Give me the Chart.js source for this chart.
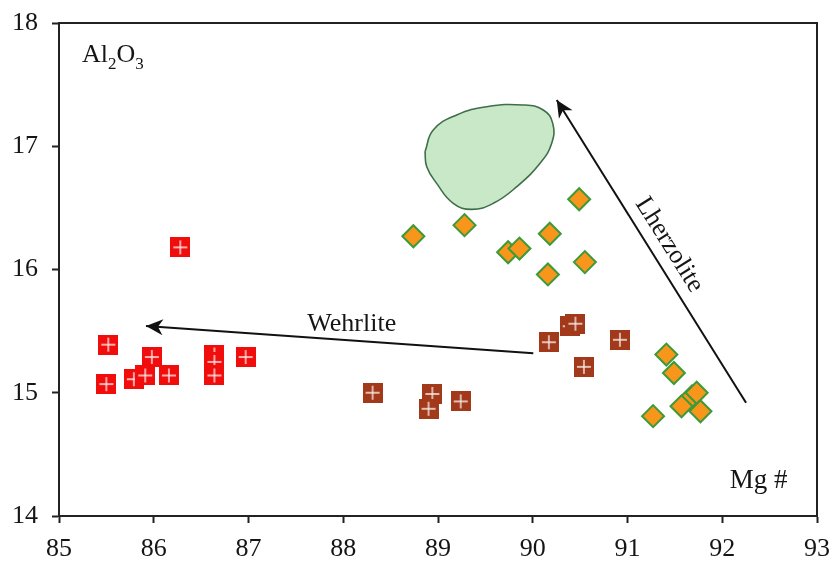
<!DOCTYPE html>
<html>
<head>
<meta charset="utf-8">
<script src="https://cdn.jsdelivr.net/npm/chart.js@4/dist/chart.umd.min.js"></script>
<style>
html,body{margin:0;padding:0;background:#fff;}
#wrap{width:834px;height:562px;position:relative;}
</style>
</head>
<body>
<div id="wrap"><canvas id="c" width="834" height="562"></canvas></div>
<script>
// ---- data ----
const xTicks = [85, 86, 87, 88, 89, 90, 91, 92, 93];
const yTicks = [14, 15, 16, 17, 18];

// Wehrlite (red squares)
const wehrX = [86.28, 85.52, 85.50, 85.98, 85.79, 85.91, 86.16, 86.64, 86.64, 86.64, 86.97];
const wehrY = [16.18, 15.39, 15.07, 15.29, 15.11, 15.14, 15.14, 15.31, 15.25, 15.14, 15.29];

// Transitional (brown squares)
const brownX = [88.31, 88.94, 88.90, 89.24, 90.17, 90.39, 90.45, 90.54, 90.92];
const brownY = [15.00, 14.99, 14.87, 14.93, 15.41, 15.54, 15.56, 15.21, 15.43];

// Lherzolite (orange diamonds)
const lherX = [88.74, 89.28, 89.74, 89.86, 90.18, 90.49, 90.16, 90.55, 91.41, 91.49, 91.68, 91.73, 91.57, 91.77, 91.27];
const lherY = [16.27, 16.36, 16.14, 16.17, 16.29, 16.57, 15.96, 16.06, 15.31, 15.16, 14.97, 15.00, 14.89, 14.85, 14.81];

// Green field outline
const fieldX = [88.863, 88.950, 89.197, 89.514, 89.900, 90.111, 90.211, 90.200, 90.077, 89.831, 89.584, 89.356, 89.161, 88.986, 88.881, 88.863];
const fieldY = [16.956, 17.132, 17.254, 17.321, 17.335, 17.294, 17.186, 17.024, 16.862, 16.672, 16.537, 16.488, 16.537, 16.699, 16.834, 16.956];

// Trend arrows (tail -> head)
const wehrArrowX = [90.006, 85.918];
const wehrArrowY = [15.32, 15.542];
const lherArrowX = [92.251, 90.253];
const lherArrowY = [14.919, 17.375];

// ---- helpers ----
const pts = (xs, ys) => xs.map((x, i) => ({x: x, y: ys[i]}));

function squareIcon(color) {
  const c = document.createElement('canvas');
  c.width = 20; c.height = 20;
  const g = c.getContext('2d');
  g.fillStyle = color;
  g.fillRect(0, 0, 20, 20);
  g.strokeStyle = 'rgba(255,255,255,0.9)';
  g.lineWidth = 1.4;
  g.beginPath();
  g.moveTo(10, 3); g.lineTo(10, 17);
  g.moveTo(3, 10); g.lineTo(17, 10);
  g.stroke();
  return c;
}

const FONT = "'Liberation Serif', 'Times New Roman', serif";
const TXT = '#151515';

const labelPlugin = {
  id: 'labels',
  afterDatasetsDraw(chart) {
    const ctx = chart.ctx;
    const xs = chart.scales.x, ys = chart.scales.y;
    const a = chart.chartArea;
    ctx.save();
    // frame
    ctx.strokeStyle = '#222';
    ctx.lineWidth = 2;
    ctx.strokeRect(a.left, a.top, a.right - a.left, a.bottom - a.top);

    // arrow heads
    function head(xArr, yArr) {
      const x0 = xs.getPixelForValue(xArr[0]), y0 = ys.getPixelForValue(yArr[0]);
      const x1 = xs.getPixelForValue(xArr[1]), y1 = ys.getPixelForValue(yArr[1]);
      const ang = Math.atan2(y1 - y0, x1 - x0);
      ctx.save();
      ctx.translate(x1, y1);
      ctx.rotate(ang);
      ctx.fillStyle = '#111';
      ctx.beginPath();
      ctx.moveTo(0, 0);
      ctx.lineTo(-17, -8);
      ctx.lineTo(-12, 0);
      ctx.lineTo(-17, 8);
      ctx.closePath();
      ctx.fill();
      ctx.restore();
      return ang;
    }
    head(wehrArrowX, wehrArrowY);
    const lAng = head(lherArrowX, lherArrowY);

    ctx.fillStyle = TXT;
    // Wehrlite
    ctx.font = '26px ' + FONT;
    ctx.textAlign = 'center';
    ctx.textBaseline = 'alphabetic';
    ctx.fillText('Wehrlite', xs.getPixelForValue(88.09), ys.getPixelForValue(15.50));

    // Lherzolite (rotated along arrow)
    ctx.save();
    ctx.translate(xs.getPixelForValue(91.44), ys.getPixelForValue(16.20));
    ctx.rotate(lAng + Math.PI);
    ctx.textBaseline = 'middle';
    ctx.fillText('Lherzolite', 0, 0);
    ctx.restore();

    // Al2O3
    ctx.textAlign = 'left';
    ctx.textBaseline = 'alphabetic';
    let px = xs.getPixelForValue(85.243), py = ys.getPixelForValue(17.684);
    ctx.font = '26px ' + FONT;
    ctx.fillText('Al', px, py); px += ctx.measureText('Al').width;
    ctx.font = '17px ' + FONT;
    ctx.fillText('2', px, py + 7); px += ctx.measureText('2').width;
    ctx.font = '26px ' + FONT;
    ctx.fillText('O', px, py); px += ctx.measureText('O').width;
    ctx.font = '17px ' + FONT;
    ctx.fillText('3', px, py + 7);

    // Mg #
    ctx.font = '27px ' + FONT;
    ctx.fillText('Mg #', xs.getPixelForValue(92.08), ys.getPixelForValue(14.227));
    ctx.restore();
  }
};

new Chart(document.getElementById('c'), {
  type: 'scatter',
  data: {
    datasets: [
      {
        label: 'Field',
        data: pts(fieldX, fieldY),
        showLine: true,
        tension: 0.45,
        fill: 'shape',
        backgroundColor: 'rgba(200,232,200,1)',
        borderColor: '#3f6e4a',
        borderWidth: 1.6,
        pointRadius: 0,
        order: 10
      },
      {
        label: 'Wehrlite trend',
        data: pts(wehrArrowX, wehrArrowY),
        showLine: true,
        borderColor: '#111',
        borderWidth: 2,
        pointRadius: 0,
        order: 9
      },
      {
        label: 'Lherzolite trend',
        data: pts(lherArrowX, lherArrowY),
        showLine: true,
        borderColor: '#111',
        borderWidth: 2,
        pointRadius: 0,
        order: 9
      },
      {
        label: 'Wehrlite',
        data: pts(wehrX, wehrY),
        pointStyle: squareIcon('#f20d0d'),
        pointRadius: 10,
        order: 3
      },
      {
        label: 'Transitional',
        data: pts(brownX, brownY),
        pointStyle: squareIcon('#a3391b'),
        pointRadius: 10,
        order: 2
      },
      {
        label: 'Lherzolite',
        data: pts(lherX, lherY),
        pointStyle: 'rectRot',
        pointRadius: 11,
        backgroundColor: '#f7961a',
        borderColor: '#3c9a3a',
        borderWidth: 2,
        order: 1
      }
    ]
  },
  options: {
    responsive: false,
    animation: false,
    layout: {padding: {top: 23, right: 17, left: 0, bottom: 0}},
    plugins: {legend: {display: false}, tooltip: {enabled: false}},
    scales: {
      x: {
        type: 'linear',
        min: xTicks[0], max: xTicks[xTicks.length - 1],
        afterBuildTicks: (s) => { s.ticks = xTicks.map(v => ({value: v})); },
        afterFit: (s) => { s.height = 46; s.paddingLeft = 0; s.paddingRight = 0; },
        grid: {drawOnChartArea: false, tickLength: 7, tickColor: '#222', tickWidth: 2},
        border: {color: '#222', width: 2},
        ticks: {color: TXT, font: {family: FONT, size: 26}, padding: 11, maxRotation: 0}
      },
      y: {
        type: 'linear',
        min: yTicks[0], max: yTicks[yTicks.length - 1],
        afterBuildTicks: (s) => { s.ticks = yTicks.map(v => ({value: v})); },
        afterFit: (s) => { s.width = 59; s.paddingTop = 0; s.paddingBottom = 0; },
        grid: {drawOnChartArea: false, tickLength: 7, tickColor: '#222', tickWidth: 2},
        border: {color: '#222', width: 2},
        ticks: {color: TXT, font: {family: FONT, size: 26}, padding: 14}
      }
    }
  },
  plugins: [labelPlugin]
});
</script>
</body>
</html>
